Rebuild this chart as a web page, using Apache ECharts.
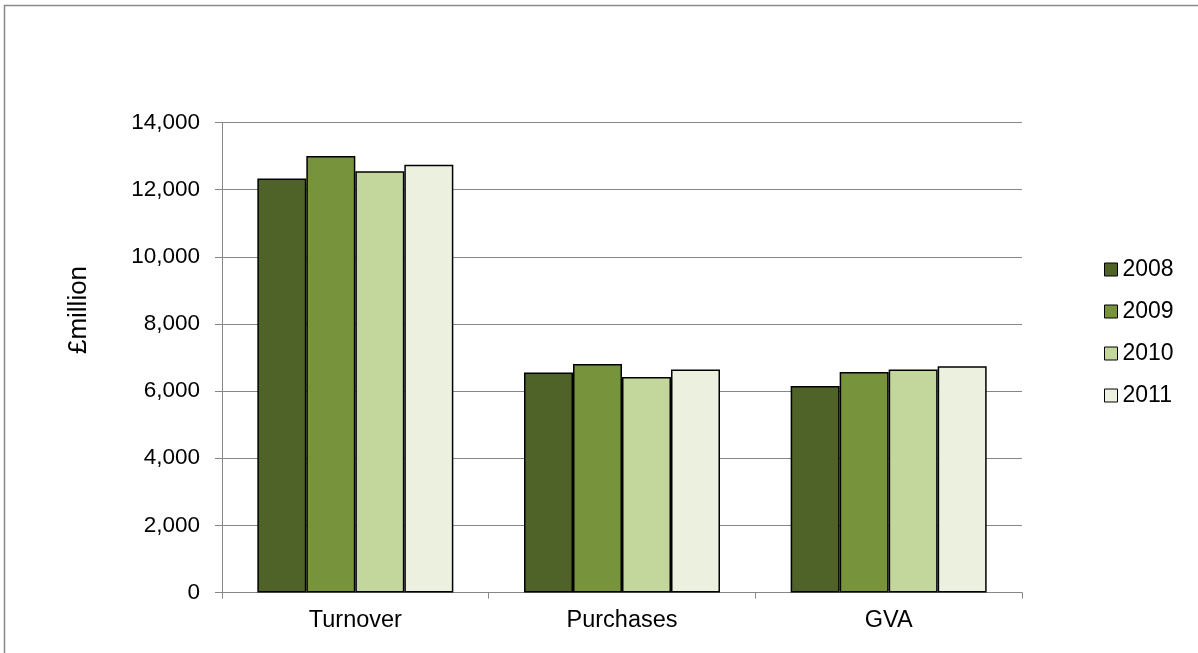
<!DOCTYPE html>
<html><head><meta charset="utf-8">
<script src="https://cdn.jsdelivr.net/npm/echarts@6/dist/echarts.min.js"></script>
<style>html,body{margin:0;padding:0;background:#fff}#c{width:1198px;height:653px}</style>
</head><body><div id="c"></div>
<script>
const categories = ['Turnover', 'Purchases', 'GVA'];
const years = ['2008', '2009', '2010', '2011'];
const v2008 = [12330, 6550, 6150];
const v2009 = [13000, 6810, 6570];
const v2010 = [12550, 6420, 6640];
const v2011 = [12740, 6640, 6740];
const colors = ['#4F6228', '#77933C', '#C3D69B', '#EBF1DE'];
const values = [v2008, v2009, v2010, v2011];
const yTitle = '£million';
const font = 'Liberation Sans, Arial, sans-serif';

const chart = echarts.init(document.getElementById('c'));
chart.setOption({
  animation: false,
  graphic: [
    {type:'rect', shape:{x:4.5, y:5.5, width:1300, height:700}, style:{fill:'none', stroke:'#8a8a8a', lineWidth:1.5}, silent:true},
    {type:'text', x:79, y:310, rotation: Math.PI/2, style:{text: yTitle, fontFamily: font, fontSize: 26, fill:'#000', textAlign:'center', textVerticalAlign:'middle'}}
  ],
  grid: {left: 222, right: 176, top: 122.5, bottom: 60.5, containLabel: false},
  legend: {
    orient: 'vertical', left: 1099, top: 253, itemWidth: 13, itemHeight: 13, itemGap: 19,
    icon: 'rect',
    textStyle: {fontFamily: font, fontSize: 23, color: '#000', padding:[0,0,0,0]},
    data: years.map((y,i)=>({name:y, itemStyle:{color:colors[i], borderColor:'#000', borderWidth:1}}))
  },
  xAxis: {
    type: 'category', data: categories,
    axisLine: {lineStyle: {color: '#868686', width: 1}},
    axisTick: {show: true, length: 6, lineStyle: {color: '#868686'}},
    axisLabel: {fontFamily: font, fontSize: 23.5, color: '#000', margin: 16}
  },
  yAxis: {
    type: 'value', min: 0, max: 14000, interval: 2000,
    axisLine: {show: true, lineStyle: {color: '#868686'}},
    axisTick: {show: true, length: 7, lineStyle: {color: '#868686'}},
    axisLabel: {fontFamily: font, fontSize: 22.5, color: '#000', margin: 22,
      formatter: v => v.toLocaleString('en-US')},
    splitLine: {lineStyle: {color: '#868686', width: 1}}
  },
  series: years.map((y,i)=>({
    name: y, type: 'bar', data: values[i], barGap: '0%', barCategoryGap: '26.5%',
    itemStyle: {color: colors[i], borderColor: '#000', borderWidth: 1.5}
  }))
});
</script></body></html>
